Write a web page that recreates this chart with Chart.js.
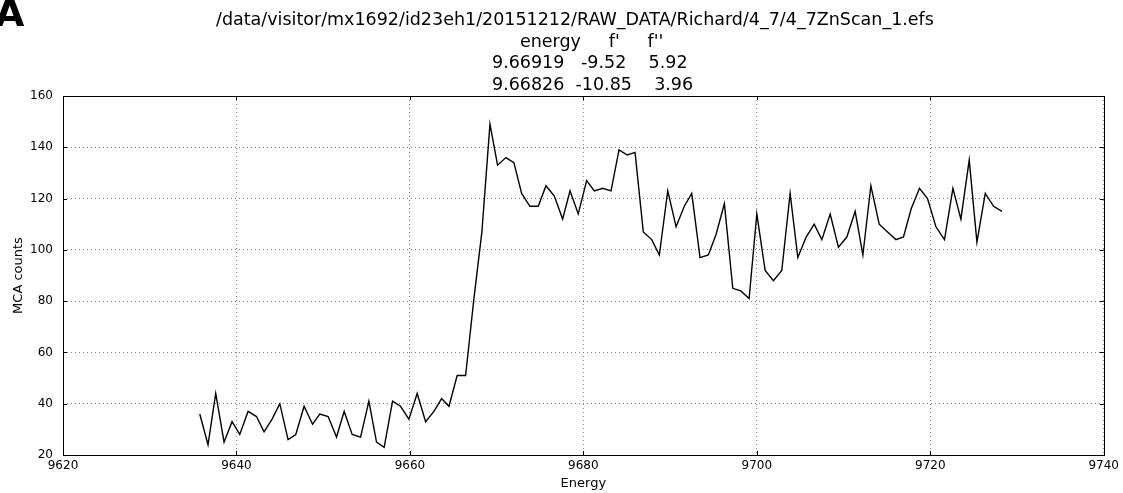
<!DOCTYPE html>
<html>
<head>
<meta charset="utf-8">
<script src="https://cdn.jsdelivr.net/npm/chart.js@4.4.0/dist/chart.umd.min.js"></script>
<style>
  html, body { margin: 0; padding: 0; background: #fff; }
  #wrap { width: 1123px; height: 493px; position: relative; }
</style>
</head>
<body>
<div id="wrap"><canvas id="scan"></canvas></div>
<script>
// energy (eV) and MCA counts
var energy = [9635.77, 9636.72, 9637.61, 9638.57, 9639.49, 9640.38, 9641.34, 9642.31, 9643.18, 9644.11,
  9645.00, 9645.95, 9646.84, 9647.80, 9648.77, 9649.61, 9650.57, 9651.54, 9652.42, 9653.34,
  9654.31, 9655.27, 9656.15, 9657.03, 9658.00, 9658.92, 9659.88, 9660.84, 9661.81, 9662.77,
  9663.65, 9664.50, 9665.45, 9666.42, 9667.38, 9668.30, 9669.23, 9670.11, 9671.07, 9671.99,
  9672.88, 9673.84, 9674.80, 9675.69, 9676.65, 9677.61, 9678.46, 9679.41, 9680.38, 9681.26,
  9682.23, 9683.19, 9684.11, 9685.07, 9685.96, 9686.91, 9687.88, 9688.76, 9689.73, 9690.69,
  9691.64, 9692.50, 9693.45, 9694.41, 9695.30, 9696.26, 9697.23, 9698.15, 9699.11, 9700.00,
  9700.96, 9701.91, 9702.88, 9703.84, 9704.73, 9705.69, 9706.61, 9707.50, 9708.46, 9709.41,
  9710.38, 9711.34, 9712.23, 9713.15, 9714.11, 9715.07, 9716.04, 9716.91, 9717.80, 9718.76,
  9719.68, 9720.65, 9721.64, 9722.61, 9723.53, 9724.49, 9725.38, 9726.34, 9727.30, 9728.27];
var counts = [36, 24, 44, 25, 33, 28, 37, 35, 29, 34,
  40, 26, 28, 39, 32, 36, 35, 27, 37, 28,
  27, 41, 25, 23, 41, 39, 34, 44, 33, 37,
  42, 39, 51, 51, 81, 107, 149, 133, 136, 134,
  122, 117, 117, 125, 121, 112, 123, 114, 127, 123,
  124, 123, 139, 137, 138, 107, 104, 98, 123, 109,
  117, 122, 97, 98, 106, 118, 85, 84, 81, 114,
  92, 88, 92, 122, 97, 105, 110, 104, 114, 101,
  105, 115, 98, 125, 110, 107, 104, 105, 116, 124,
  120, 109, 104, 124, 112, 135, 103, 122, 117, 115];
var xTicks = [9620, 9640, 9660, 9680, 9700, 9720, 9740];
var yTicks = [20, 40, 60, 80, 100, 120, 140, 160];
var titleLines = [
  '/data/visitor/mx1692/id23eh1/20151212/RAW_DATA/Richard/4_7/4_7ZnScan_1.efs',
  'energy     f\'     f\'\'',
  '9.66919   -9.52    5.92',
  '9.66826  -10.85    3.96'
];
var titleLeft = [216, 520, 492, 492];

var FONT = "'DejaVu Sans', sans-serif";

var points = energy.map(function (e, i) { return { x: e, y: counts[i] }; });

// frame, inward tick marks, headline text and panel letter
var decor = {
  id: 'decor',
  afterDraw: function (chart) {
    var c = chart.ctx, a = chart.chartArea;
    var xs = chart.scales.x, ys = chart.scales.y;
    c.save();
    c.strokeStyle = '#000';
    c.lineWidth = 1;
    c.strokeRect(Math.round(a.left) + 0.5, Math.round(a.top) + 0.5,
      Math.round(a.right - a.left), Math.round(a.bottom - a.top));
    c.beginPath();
    xTicks.forEach(function (t) {
      var px = Math.round(xs.getPixelForValue(t)) + 0.5;
      c.moveTo(px, a.bottom); c.lineTo(px, a.bottom - 4);
      c.moveTo(px, a.top); c.lineTo(px, a.top + 4);
    });
    yTicks.forEach(function (t) {
      var py = Math.round(ys.getPixelForValue(t)) + 0.5;
      c.moveTo(a.left, py); c.lineTo(a.left + 4, py);
      c.moveTo(a.right, py); c.lineTo(a.right - 4, py);
    });
    c.stroke();

    c.fillStyle = '#000';
    c.font = '17.5px ' + FONT;
    c.textAlign = 'left';
    c.textBaseline = 'alphabetic';
    titleLines.forEach(function (line, i) {
      c.fillText(line, titleLeft[i], 25 + i * 21.5);
    });

    c.font = 'bold 38px ' + FONT;
    c.fillText('A', -5, 26);
    c.restore();
  }
};

var ctx = document.getElementById('scan').getContext('2d');
var scanChart = new Chart(ctx, {
  type: 'line',
  data: {
    datasets: [{
      label: 'MCA counts',
      data: points,
      borderColor: '#000',
      borderWidth: 1.4,
      pointRadius: 0,
      fill: false,
      tension: 0
    }]
  },
  options: {
    responsive: true,
    maintainAspectRatio: false,
    animation: false,
    devicePixelRatio: 1,
    layout: { padding: { top: 96, right: 18, left: 0, bottom: 0 } },
    plugins: {
      legend: { display: false },
      tooltip: { enabled: false },
      title: { display: false }
    },
    scales: {
      x: {
        type: 'linear',
        min: 9620,
        max: 9740,
        afterBuildTicks: function (s) { s.ticks = xTicks.map(function (v) { return { value: v }; }); },
        afterFit: function (s) { s.height = 38; },
        ticks: {
          color: '#000',
          font: { family: FONT, size: 12 },
          padding: 4,
          maxRotation: 0,
          callback: function (v) { return String(v); }
        },
        grid: {
          color: '#666',
          lineWidth: 0.8,
          drawTicks: false
        },
        border: { display: false, dash: [1, 3] },
        title: {
          display: true,
          text: 'Energy',
          color: '#000',
          font: { family: FONT, size: 13 },
          padding: { top: 0, bottom: 2 }
        }
      },
      y: {
        min: 20,
        max: 160,
        afterBuildTicks: function (s) { s.ticks = yTicks.map(function (v) { return { value: v }; }); },
        afterFit: function (s) { s.width = 63; },
        ticks: {
          color: '#000',
          font: { family: FONT, size: 12 },
          padding: 10,
          callback: function (v) { return String(v); }
        },
        grid: {
          color: '#666',
          lineWidth: 0.8,
          drawTicks: false
        },
        border: { display: false, dash: [1, 3] },
        title: {
          display: true,
          text: 'MCA counts',
          color: '#000',
          font: { family: FONT, size: 13 },
          padding: { top: 11, bottom: 0 }
        }
      }
    }
  },
  plugins: [decor]
});
</script>
</body>
</html>
